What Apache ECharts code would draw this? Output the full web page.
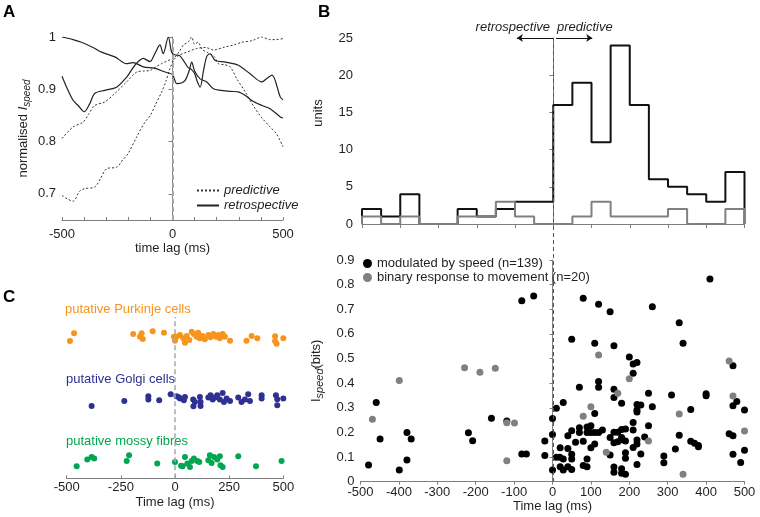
<!DOCTYPE html>
<html><head><meta charset="utf-8">
<script src="https://cdn.jsdelivr.net/npm/echarts@6/dist/echarts.min.js"></script>
<style>html,body{margin:0;padding:0;background:#fff}#c{width:760px;height:517px}</style>
</head><body><div id="c"></div>
<script>
const FONT = 'Liberation Sans, Arial, sans-serif';
// ---------- Panel A: normalised I_speed vs time lag ----------
const predictivePeak = [[-500,0.806],[-450,0.828],[-405,0.837],[-380,0.852],[-352,0.869],[-306,0.876],[-261,0.892],[-208,0.914],[-162,0.933],[-130,0.935],[-102,0.936],[-75,0.943],[-49,0.949],[-20,0.955],[4,0.959],[30,0.972],[50,0.985],[70,0.99],[87,1.0],[100,0.986],[115,0.99],[135,0.976],[160,0.97],[190,0.962],[208,0.949],[235,0.947],[261,0.943],[291,0.92],[329,0.895],[374,0.863],[405,0.845],[435,0.831],[470,0.815],[500,0.79]];
const predictiveRise = [[-500,0.697],[-475,0.69],[-450,0.686],[-420,0.705],[-397,0.71],[-352,0.713],[-325,0.73],[-299,0.748],[-253,0.751],[-225,0.765],[-201,0.777],[-162,0.809],[-125,0.837],[-100,0.85],[-79,0.869],[-49,0.895],[-30,0.915],[-11,0.94],[11,0.959],[30,0.965],[70,0.972],[110,0.978],[150,0.98],[185,0.975],[238,0.981],[280,0.985],[314,0.99],[360,0.993],[405,1.0],[440,0.995],[470,0.995],[500,0.997]];
const retrospectiveFall = [[-500,1.0],[-450,0.995],[-412,0.99],[-360,0.98],[-321,0.971],[-261,0.962],[-208,0.949],[-178,0.951],[-132,0.943],[-79,0.94],[-34,0.933],[0,0.928],[19,0.911],[40,0.912],[57,0.917],[75,0.935],[87,0.952],[100,0.935],[125,0.92],[155,0.914],[185,0.901],[220,0.898],[260,0.896],[298,0.895],[330,0.888],[360,0.878],[405,0.869],[445,0.862],[488,0.847],[500,0.845]];
const retrospectiveDip = [[-500,0.925],[-475,0.9],[-450,0.879],[-425,0.868],[-400,0.857],[-375,0.872],[-352,0.892],[-306,0.898],[-253,0.904],[-208,0.923],[-170,0.946],[-132,0.959],[-102,0.953],[-79,0.969],[-57,0.985],[-42,0.968],[-19,1.0],[-4,0.971],[10,0.966],[30,0.965],[50,0.955],[70,0.942],[85,0.938],[100,0.93],[112,0.915],[125,0.904],[140,0.935],[155,0.963],[170,0.968],[193,0.955],[240,0.952],[298,0.946],[350,0.93],[405,0.914],[425,0.92],[450,0.927],[488,0.885],[500,0.88]];
const aYTicks = [0.7, 0.8, 0.9, 1];

// ---------- Panel B: histogram ----------
const binStarts = [-500,-450,-400,-350,-300,-250,-200,-150,-100,-50,0,50,100,150,200,250,300,350,400,450];
const binEnd = 500;
const histSpeed = [2,1,4,0,0,2,1,2,3,3,16,19,11,24,16,6,5,4,3,7];
const histBinary = [1,0,1,0,0,1,1,3,1,0,0,1,3,1,1,1,2,0,0,2];

// ---------- Panel B: scatter ----------
const speedUnits = [[-479,0.068],[-459,0.322],[-449,0.173],[-399,0.047],[-379,0.2],[-379,0.088],[-368,0.173],
[-219,0.199],[-208,0.166],[-159,0.258],[-119,0.246],[-80,0.112],[-68,0.112],[-80,0.735],[-49,0.754],
[-20,0.165],[-20,0.106],[0,0.257],[0,0.192],[0,0.047],[10,0.298],[10,0.099],[19,0.099],[20,0.138],[28,0.322],[20,0.061],[28,0.047],[28,0.092],
[40,0.187],[40,0.135],[40,0.061],[50,0.207],[50,0.111],[50,0.092],[50,0.05],[50,0.578],[60,0.16],[70,0.383],[70,0.219],[70,0.2],
[80,0.164],[80,0.066],[80,0.745],[90,0.092],[90,0.061],[90,0.222],[90,0.2],[100,0.227],[100,0.138],[100,0.2],
[110,0.2],[110,0.153],[110,0.277],[110,0.562],[120,0.72],[120,0.407],[120,0.383],[120,0.2],[130,0.21],
[150,0.69],[150,0.108],[150,0.179],[160,0.552],[160,0.375],[160,0.342],[160,0.201],[160,0.158],[160,0.06],[160,0.038],
[170,0.162],[170,0.201],[180,0.318],[180,0.212],[180,0.179],[180,0.17],[180,0.053],[180,0.034],
[190,0.214],[190,0.165],[190,0.118],[190,0.095],[190,0.03],[200,0.506],
[210,0.478],[210,0.44],[210,0.24],[210,0.21],[210,0.139],
[220,0.484],[220,0.313],[220,0.291],[220,0.283],[220,0.169],[220,0.153],[220,0.07],
[230,0.311],[230,0.112],[240,0.181],[250,0.359],[250,0.227],[260,0.304],[260,0.71],
[290,0.104],[290,0.077],[310,0.352],[320,0.133],[330,0.645],[330,0.189],[340,0.562],
[360,0.293],[360,0.164],[370,0.156],[380,0.147],[380,0.142],[400,0.357],[400,0.349],[410,0.823],
[460,0.195],[470,0.471],[470,0.187],[470,0.308],[470,0.111],[480,0.326],[490,0.078],[500,0.291],[500,0.128]];
const binaryUnits = [[-469,0.254],[-399,0.411],[-229,0.463],[-189,0.444],[-149,0.461],[-119,0.239],[-99,0.238],[-119,0.085],
[80,0.266],[100,0.304],[120,0.514],[140,0.12],[170,0.359],[200,0.418],[250,0.165],[330,0.275],[340,0.03],[460,0.49],[470,0.348],[500,0.206]];

// ---------- Panel C: cell types (lag, row height) ----------
const purkinje = [[-485,137.3],[-466,145],[-193,144.3],[-162,141.6],[-154,145],[-149,139.3],[-103,147],[-51,145.6],[-5,141.5],[0,137.6],[7,141.6],[23,143.3],[38,140],[46,135.6],[54,142.3],[66,138.3],[77,146.6],[87,144.3],[100,141.6],[107,145.6],[115,140],[127,142.3],[138,139],[154,143.3],[164,141],[177,144.3],[189,141.6],[200,143.3],[207,140],[220,144.3],[230,141.6],[254,137.6],[330,137.6],[354,142.3],[380,140],[462,142],[462,137.3],[469,134.5],[500,140]];
const golgi = [[-385,72.3],[-234,77.3],[-123,82],[-123,78.7],[-73,78],[-20,84],[7,82],[18,81],[23,79.7],[41,78],[46,81.3],[84,78.7],[92,76.3],[85,72],[115,81.3],[118,76.3],[118,72.3],[154,80.7],[164,83],[174,78.7],[184,80.7],[195,83],[207,78.7],[220,85.3],[226,76.3],[238,79.7],[254,77.3],[292,80.7],[307,76.3],[323,78.7],[338,84],[346,77.3],[400,83],[400,79.7],[466,83],[472,79],[472,73],[500,79.7]];
const mossy = [[-454,12],[-405,18.7],[-385,21.3],[-373,19.7],[-223,17.3],[-212,23],[-82,14.7],[0,16.3],[28,12.5],[35,12],[46,21.3],[57,14.7],[69,11.3],[77,17.3],[87,19.7],[103,17.3],[112,16.3],[154,18],[161,23],[169,15.3],[180,21.3],[195,18.7],[207,22],[210,13],[220,11.3],[292,22],[374,12],[492,17.3]];

function stepData(starts, vals, end) {
  const d = [[starts[0], 0]];
  starts.forEach((s, i) => d.push([s, vals[i]]));
  d.push([end, vals[vals.length - 1]]);
  d.push([end, 0]);
  return d;
}

const axisC = '#7f7f7f', txt = '#231f20';
const orange = '#F7941D', navy = '#2E3192', green = '#00A651';

const chart = echarts.init(document.getElementById('c'), null, {renderer: 'canvas'});
const baseAxis = (extra) => Object.assign({
  type: 'value', splitLine: {show: false},
  axisLine: {show: true, lineStyle: {color: axisC, width: 1}},
  axisTick: {show: true, length: 3, lineStyle: {color: axisC}},
  axisLabel: {color: txt, fontSize: 13, fontFamily: FONT},
  nameTextStyle: {color: txt, fontSize: 13, fontFamily: FONT}
}, extra);

const option = {
  animation: false,
  textStyle: {fontFamily: FONT},
  grid: [
    {left: 62, top: 37, width: 221, height: 183},
    {left: 362, top: 38, width: 382.5, height: 186},
    {left: 360.5, top: 260, width: 384, height: 221.7},
    {left: 66.7, top: 317, width: 216.6, height: 161.3},
    {left: 362, top: 38, width: 382.5, height: 444}
  ],
  xAxis: [
    baseAxis({gridIndex: 0, min: -500, max: 500, interval: 100,
      axisTick: {show: true, inside: true, length: 3, lineStyle: {color: axisC}},
      axisLabel: {color: txt, fontSize: 13, margin: 8, formatter: v => (v % 500 === 0 ? String(v) : '')},
      name: 'time lag (ms)', nameLocation: 'middle', nameGap: 22}),
    baseAxis({gridIndex: 1, min: -500, max: 500, interval: 100,
      axisTick: {show: true, length: 4, lineStyle: {color: axisC}},
      axisLabel: {show: false}}),
    baseAxis({gridIndex: 2, min: -500, max: 500, interval: 100,
      axisLabel: {color: txt, fontSize: 13, margin: 4},
      name: 'Time lag (ms)', nameLocation: 'middle', nameGap: 18}),
    baseAxis({gridIndex: 3, min: -500, max: 500, interval: 250,
      axisTick: {show: true, inside: true, length: 3, lineStyle: {color: axisC}},
      axisLabel: {color: txt, fontSize: 13, margin: 3},
      name: 'Time lag (ms)', nameLocation: 'middle', nameGap: 18}),
    {gridIndex: 4, type: 'value', min: -500, max: 500, show: false}
  ],
  yAxis: [
    baseAxis({gridIndex: 0, min: 0.65, max: 1,
      axisTick: {show: true, length: 4, customValues: aYTicks, lineStyle: {color: axisC}},
      axisLabel: {color: txt, fontSize: 13, margin: 6, customValues: aYTicks},
      name: '{n|normalised }{i|I}{s|speed}', nameLocation: 'middle', nameGap: 30,
      nameTextStyle: {color: txt, rich: {
        n: {fontSize: 13, lineHeight: 18, color: txt},
        i: {fontSize: 13, lineHeight: 18, fontStyle: 'italic', color: txt},
        s: {fontSize: 10, lineHeight: 10, fontStyle: 'italic', verticalAlign: 'bottom', color: txt}
      }}}),
    baseAxis({gridIndex: 1, min: 0, max: 25, interval: 5,
      axisTick: {show: true, length: 4, lineStyle: {color: axisC}},
      axisLabel: {color: txt, fontSize: 13, margin: 9}}),
    baseAxis({gridIndex: 2, min: 0, max: 0.9, interval: 0.1,
      axisTick: {show: true, length: 3, lineStyle: {color: axisC}},
      axisLabel: {color: txt, fontSize: 13, margin: 6},
      name: '{n|I}{s|speed}{n|(bits)}', nameLocation: 'middle', nameGap: 32,
      nameTextStyle: {color: txt, rich: {
        n: {fontSize: 13, lineHeight: 18, color: txt},
        s: {fontSize: 11, lineHeight: 11, fontStyle: 'italic', verticalAlign: 'bottom', color: txt}
      }}}),
    {gridIndex: 3, type: 'value', min: 0, max: 161.3, show: false},
    {gridIndex: 4, type: 'value', min: 0, max: 1, show: false}
  ],
  legend: [
    {left: 196, top: 184, orient: 'vertical', itemWidth: 22, itemHeight: 8, itemGap: 2, padding: 0,
     itemStyle: {color: 'transparent', borderColor: 'transparent', borderWidth: 0, opacity: 0},
     data: ['predictive', 'retrospective'],
     textStyle: {fontSize: 13, fontStyle: 'italic', color: txt, lineHeight: 10}},
    {left: 363, top: 257, orient: 'vertical', itemWidth: 9, itemHeight: 9, itemGap: 1, padding: 0,
     data: [{name: 'modulated by speed (n=139)', icon: 'circle'}, {name: 'binary response to movement (n=20)', icon: 'circle'}],
     textStyle: {fontSize: 13, color: txt, lineHeight: 12}}
  ],
  graphic: [
    {type: 'text', left: 3, top: 4, style: {text: 'A', fontSize: 17, fontWeight: 'bold', fill: '#000', fontFamily: FONT}},
    {type: 'text', left: 318, top: 4, style: {text: 'B', fontSize: 17, fontWeight: 'bold', fill: '#000', fontFamily: FONT}},
    {type: 'text', left: 3, top: 289, style: {text: 'C', fontSize: 17, fontWeight: 'bold', fill: '#000', fontFamily: FONT}},
    {type: 'text', x: 318, y: 113, rotation: Math.PI / 2, style: {text: 'units', fontSize: 13, fill: txt, align: 'center', verticalAlign: 'middle', fontFamily: FONT}},
    {type: 'text', x: 550, y: 27, style: {text: 'retrospective', fontSize: 13, fontStyle: 'italic', fill: txt, align: 'right', verticalAlign: 'middle', fontFamily: FONT}},
    {type: 'text', x: 557, y: 27, style: {text: 'predictive', fontSize: 13, fontStyle: 'italic', fill: txt, align: 'left', verticalAlign: 'middle', fontFamily: FONT}},
    {type: 'text', x: 65, y: 309, style: {text: 'putative Purkinje cells', fontSize: 13, fill: orange, verticalAlign: 'middle', fontFamily: FONT}},
    {type: 'text', x: 66, y: 379, style: {text: 'putative Golgi cells', fontSize: 13, fill: navy, verticalAlign: 'middle', fontFamily: FONT}},
    {type: 'text', x: 66, y: 441, style: {text: 'putative mossy fibres', fontSize: 13, fill: green, verticalAlign: 'middle', fontFamily: FONT}}
  ],
  series: [
    // Panel A
    {name: 'predictive', type: 'line', xAxisIndex: 0, yAxisIndex: 0, data: predictivePeak, symbol: 'none', smooth: 0.3,
     itemStyle: {color: '#333'}, lineStyle: {color: '#333', width: 1, type: [2, 2]},
     markLine: {silent: true, symbol: 'none', label: {show: false},
       lineStyle: {color: '#a6a6a6', width: 2, type: [5, 3]}, data: [{xAxis: 0}]}},
    {name: 'predictive', type: 'line', xAxisIndex: 0, yAxisIndex: 0, data: predictiveRise, symbol: 'none', smooth: 0.3,
     itemStyle: {color: '#333'}, lineStyle: {color: '#333', width: 1, type: [2, 2]}},
    {name: 'retrospective', type: 'line', xAxisIndex: 0, yAxisIndex: 0, data: retrospectiveFall, symbol: 'none', smooth: 0.3,
     itemStyle: {color: '#222'}, lineStyle: {color: '#222', width: 1.2, type: 'solid'}},
    {name: 'retrospective', type: 'line', xAxisIndex: 0, yAxisIndex: 0, data: retrospectiveDip, symbol: 'none', smooth: 0.3,
     itemStyle: {color: '#222'}, lineStyle: {color: '#222', width: 1.2, type: 'solid'}},
    // Panel B histogram
    {name: 'hist speed', type: 'line', xAxisIndex: 1, yAxisIndex: 1, step: 'end', symbol: 'none',
     data: stepData(binStarts, histSpeed, binEnd), lineStyle: {color: '#111', width: 2}},
    {name: 'hist binary', type: 'line', xAxisIndex: 1, yAxisIndex: 1, step: 'end', symbol: 'none',
     data: stepData(binStarts, histBinary, binEnd), lineStyle: {color: '#808080', width: 2},
     markLine: {silent: true, symbol: ['none', 'arrow'], symbolSize: 6, label: {show: false},
       lineStyle: {color: '#111', width: 1, type: 'solid'},
       data: [[{coord: [0, 25]}, {coord: [-95, 25]}], [{coord: [7, 25]}, {coord: [102, 25]}]]}},
    // Overlay dashed zero line for B
    {name: 'zero B', type: 'line', xAxisIndex: 4, yAxisIndex: 4, data: [], symbol: 'none',
     markLine: {silent: true, symbol: 'none', label: {show: false},
       lineStyle: {color: '#555', width: 1, type: [4, 3]}, data: [{xAxis: 0}]}},
    // Panel B scatter
    {name: 'modulated by speed (n=139)', type: 'scatter', xAxisIndex: 2, yAxisIndex: 2, data: speedUnits,
     symbolSize: 7, itemStyle: {color: '#000', opacity: 1}},
    {name: 'binary response to movement (n=20)', type: 'scatter', xAxisIndex: 2, yAxisIndex: 2, data: binaryUnits,
     symbolSize: 7, itemStyle: {color: '#808080', opacity: 1}},
    // Panel C
    {name: 'Purkinje', type: 'scatter', xAxisIndex: 3, yAxisIndex: 3, data: purkinje, symbolSize: 6,
     itemStyle: {color: orange, opacity: 1},
     markLine: {silent: true, symbol: 'none', label: {show: false},
       lineStyle: {color: '#a6a6a6', width: 1.5, type: [5, 3]}, data: [{xAxis: 0}]}},
    {name: 'Golgi', type: 'scatter', xAxisIndex: 3, yAxisIndex: 3, data: golgi, symbolSize: 6,
     itemStyle: {color: navy, opacity: 1}},
    {name: 'mossy', type: 'scatter', xAxisIndex: 3, yAxisIndex: 3, data: mossy, symbolSize: 6,
     itemStyle: {color: green, opacity: 1}}
  ]
};
chart.setOption(option);
</script></body></html>
